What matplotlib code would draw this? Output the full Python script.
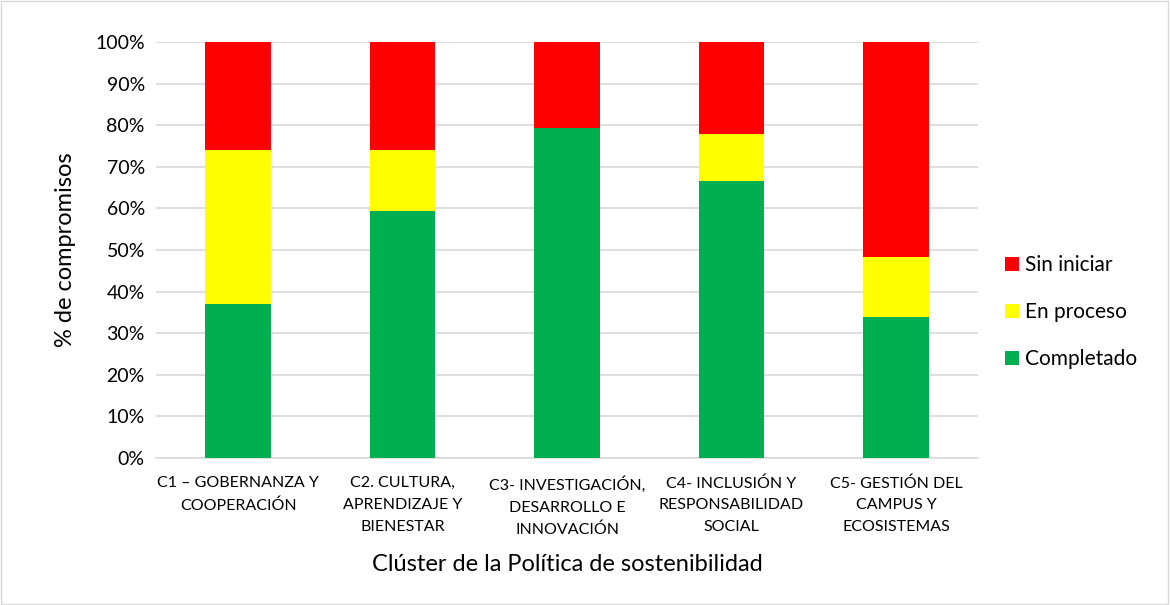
import matplotlib
matplotlib.use("Agg")
import matplotlib.pyplot as plt
from matplotlib.ticker import PercentFormatter

plt.rcParams['font.family'] = ['Lato', 'DejaVu Sans']

clusters = [
    "C1 – GOBERNANZA Y\nCOOPERACIÓN",
    "C2. CULTURA,\nAPRENDIZAJE Y\nBIENESTAR",
    "C3- INVESTIGACIÓN,\nDESARROLLO E\nINNOVACIÓN",
    "C4- INCLUSIÓN Y\nRESPONSABILIDAD\nSOCIAL",
    "C5- GESTIÓN DEL\nCAMPUS Y\nECOSISTEMAS",
]
completado = [37.0, 59.3, 79.3, 66.7, 33.9]
en_proceso = [37.0, 14.8, 0.0, 11.1, 14.3]
sin_iniciar = [26.0, 25.9, 20.7, 22.2, 51.8]

fig = plt.figure(figsize=(11.7, 6.05), dpi=100)
ax = fig.add_axes([0.1333, 0.243, 0.7027, 0.6876])

x = range(len(clusters))
w = 0.4
b1 = ax.bar(x, completado, w, color="#00B050", label="Completado", zorder=3)
bottom2 = completado
b2 = ax.bar(x, en_proceso, w, bottom=bottom2, color="#FFFF00", label="En proceso", zorder=3)
bottom3 = [a + b for a, b in zip(completado, en_proceso)]
b3 = ax.bar(x, sin_iniciar, w, bottom=bottom3, color="#FF0000", label="Sin iniciar", zorder=3)

ax.set_xlim(-0.5, len(clusters) - 0.5)
ax.set_ylim(0, 100)
ax.set_yticks(range(0, 101, 10))
ax.yaxis.set_major_formatter(PercentFormatter(decimals=0))
ax.grid(axis="y", color="#D9D9D9", linewidth=1.2, zorder=0)
for s in ["top", "right", "left"]:
    ax.spines[s].set_visible(False)
ax.spines["bottom"].set_color("#D9D9D9")
ax.spines["bottom"].set_linewidth(1.2)
ax.tick_params(axis="both", length=0)
ax.tick_params(axis="y", labelsize=14, pad=8)
ax.set_xticks(list(x))
ax.set_xticklabels(clusters, fontsize=11.5, linespacing=1.72)
ax.tick_params(axis="x", pad=13)

ax.set_ylabel("% de compromisos", fontsize=17, labelpad=14)
ax.set_xlabel("Clúster de la Política de sostenibilidad", fontsize=17, labelpad=12)

handles = [b3, b2, b1]
leg = ax.legend(handles, [h.get_label() for h in handles], loc="center left",
                bbox_to_anchor=(1.01, 0.35), frameon=False, fontsize=15,
                handlelength=0.65, handleheight=0.65, handletextpad=0.3,
                labelspacing=1.3)

fig.patches.append(plt.Rectangle((0.001, 0.002), 0.997, 0.996, transform=fig.transFigure,
                                 fill=False, edgecolor="#D9D9D9", linewidth=1))
fig.savefig("out.png", dpi=100)
